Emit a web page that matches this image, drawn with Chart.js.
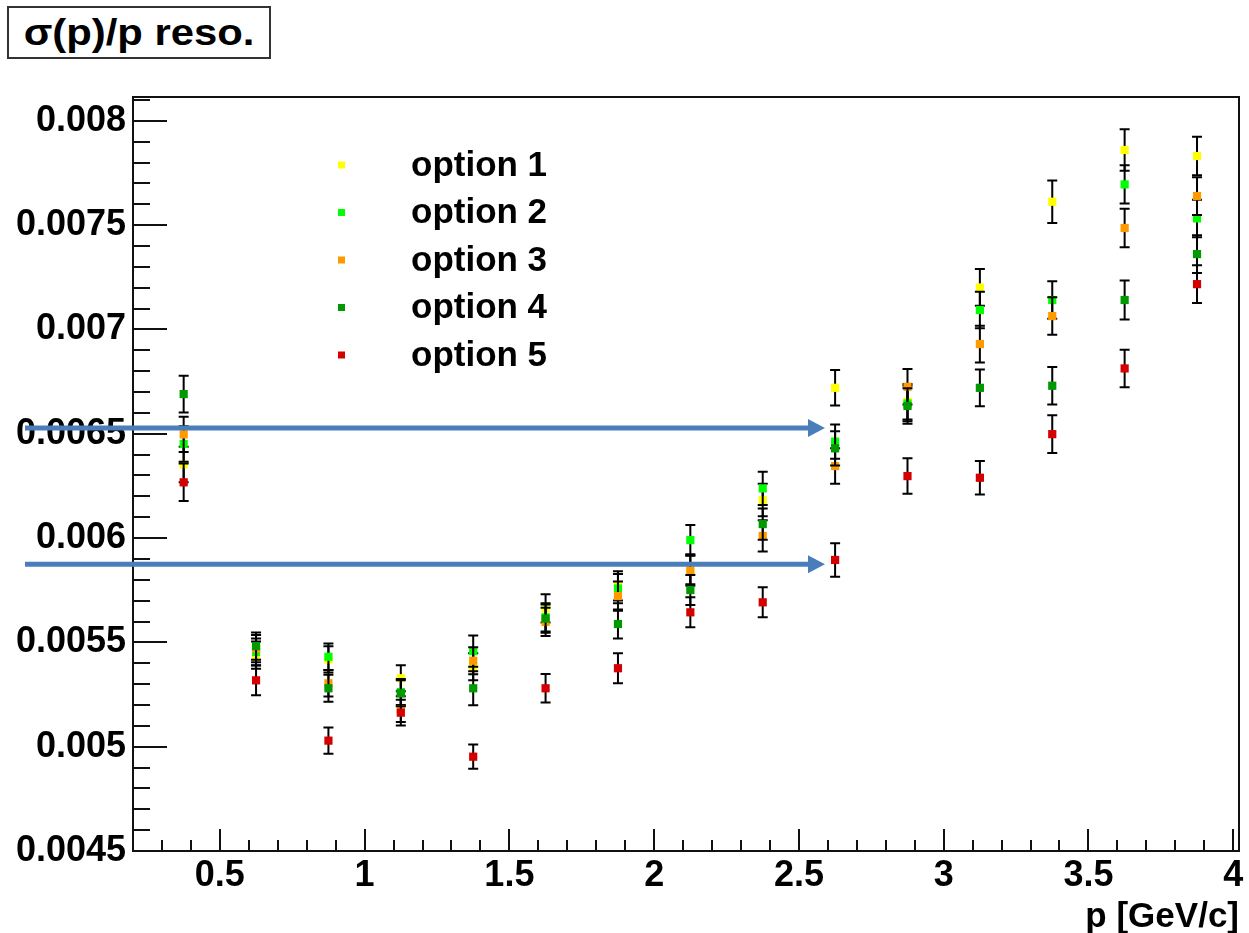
<!DOCTYPE html>
<html>
<head>
<meta charset="utf-8">
<script src="https://cdn.jsdelivr.net/npm/chart.js@4.4.1/dist/chart.umd.min.js"></script>
<style>
  html, body { margin: 0; padding: 0; background: #fff; }
  #wrap { position: relative; width: 1249px; height: 933px; overflow: hidden; }
  #c { position: absolute; left: 0; top: 0; }
  #title {
    position: absolute; left: 7px; top: 6px; width: 260px; height: 49px;
    border: 2px solid #333; background: #fff;
    display: flex; align-items: center; justify-content: center;
    font: bold 37px "Liberation Sans", Arial, sans-serif; color: #000;
  }
  #title span { display: inline-block; transform: scaleX(1.13); transform-origin: center; margin-top: 1px; }
</style>
</head>
<body>
<div id="wrap">
  <canvas id="c" width="1249" height="933"></canvas>
  <div id="title"><span>σ(p)/p reso.</span></div>
</div>
<script>
// Momentum bin centres [GeV/c]
const momentum = [0.375, 0.625, 0.875, 1.125, 1.375, 1.625, 1.875, 2.125,
                  2.375, 2.625, 2.875, 3.125, 3.375, 3.625, 3.875];

// Relative momentum resolution sigma(p)/p for each option
const option1 = [0.006353, 0.005439, 0.005418, 0.005328, 0.005383, 0.005663, 0.005771, 0.005850,
                 0.006182, 0.006720, 0.006653, 0.007201, 0.007612, 0.007860, 0.007831];
const option2 = [0.006451, 0.005454, 0.005431, 0.005262, 0.005458, 0.005620, 0.005758, 0.005990,
                 0.006238, 0.006462, 0.006645, 0.007093, 0.007141, 0.007695, 0.007532];
const option3 = [0.006497, 0.005470, 0.005304, 0.005180, 0.005412, 0.005598, 0.005722, 0.005843,
                 0.006010, 0.006345, 0.006725, 0.006930, 0.007064, 0.007486, 0.007639];
const option4 = [0.006690, 0.005482, 0.005280, 0.005256, 0.005280, 0.005614, 0.005588, 0.005751,
                 0.006067, 0.006430, 0.006633, 0.006720, 0.006730, 0.007141, 0.007361];
const option5 = [0.006267, 0.005318, 0.005029, 0.005163, 0.004952, 0.005280, 0.005376, 0.005644,
                 0.005692, 0.005895, 0.006297, 0.006289, 0.006498, 0.006813, 0.007217];

// Statistical uncertainties on each resolution value
const error1 = [0.000085, 0.000065, 0.000063, 0.000062, 0.000065, 0.000068, 0.000070, 0.000072,
                0.000078, 0.000085, 0.000085, 0.000088, 0.000102, 0.000100, 0.000092];
const error2 = [0.000085, 0.000065, 0.000063, 0.000062, 0.000075, 0.000068, 0.000070, 0.000072,
                0.000080, 0.000082, 0.000085, 0.000088, 0.000090, 0.000092, 0.000090];
const error3 = [0.000085, 0.000065, 0.000063, 0.000062, 0.000065, 0.000068, 0.000070, 0.000072,
                0.000075, 0.000085, 0.000085, 0.000088, 0.000090, 0.000092, 0.000090];
const error4 = [0.000088, 0.000065, 0.000065, 0.000062, 0.000082, 0.000068, 0.000070, 0.000072,
                0.000075, 0.000082, 0.000085, 0.000088, 0.000090, 0.000093, 0.000090];
const error5 = [0.000090, 0.000072, 0.000063, 0.000062, 0.000058, 0.000068, 0.000072, 0.000072,
                0.000072, 0.000080, 0.000085, 0.000080, 0.000090, 0.000090, 0.000090];

const seriesLabels = ['option 1', 'option 2', 'option 3', 'option 4', 'option 5'];
const seriesColors = ['#FFFF00', '#00FF00', '#FF9900', '#009900', '#D40000'];

// Reference levels marked with arrows: resolution values and the momentum the arrows point to
const markerLevels = [0.006527, 0.005874];
const markerTipP = 2.59;

// Axis ranges and tick spacing
const xRange = [0.2, 4.02];
const yRange = [0.0045, 0.008114];
const xMinorStep = 0.1, xMajorStep = 0.5;
const yMinorStep = 0.0001, yMajorStep = 0.0005;

const FONT = '"Liberation Sans", Arial, Helvetica, sans-serif';
const isMultiple = (v, step) => Math.abs(v / step - Math.round(v / step)) < 1e-6;

const values = [option1, option2, option3, option4, option5];
const errors = [error1, error2, error3, error4, error5];

const datasets = values.map((vals, k) => ({
  label: seriesLabels[k],
  data: momentum.map((p, i) => ({ x: p, y: vals[i] })),
  errors: errors[k],
  showLine: false,
  pointStyle: 'rect',
  pointRadius: 5.8,
  pointHoverRadius: 5.8,
  pointBackgroundColor: seriesColors[k],
  pointBorderColor: seriesColors[k],
  pointBorderWidth: 0,
  order: values.length - k   // later options are drawn on top
}));

// Vertical error bars with caps, drawn just before each dataset's markers
const errorBars = {
  id: 'errorBars',
  beforeDatasetDraw(chart, args) {
    const ds = chart.data.datasets[args.index];
    const { ctx, scales: { x, y } } = chart;
    ctx.save();
    ctx.strokeStyle = '#000';
    ctx.lineWidth = 2;
    ds.data.forEach((pt, i) => {
      const e = ds.errors[i];
      const px = x.getPixelForValue(pt.x);
      const yHi = y.getPixelForValue(pt.y + e);
      const yLo = y.getPixelForValue(pt.y - e);
      ctx.beginPath();
      ctx.moveTo(px, yLo); ctx.lineTo(px, yHi);
      ctx.moveTo(px - 5, yLo); ctx.lineTo(px + 5, yLo);
      ctx.moveTo(px - 5, yHi); ctx.lineTo(px + 5, yHi);
      ctx.stroke();
    });
    ctx.restore();
  }
};

// Frame around the plot and inward-pointing major/minor tick marks
const frameTicks = {
  id: 'frameTicks',
  beforeDatasetsDraw(chart) {
    const { ctx, chartArea: a, scales: { x, y } } = chart;
    ctx.save();
    ctx.strokeStyle = '#111';
    ctx.lineWidth = 2;
    ctx.strokeRect(a.left, a.top, a.right - a.left, a.bottom - a.top);
    ctx.beginPath();
    x.ticks.forEach(t => {
      if (t.value <= x.min + 1e-9 || t.value >= x.max - 1e-9) return;
      const px = Math.round(x.getPixelForValue(t.value));
      const len = isMultiple(t.value, xMajorStep) ? 22 : 11;
      ctx.moveTo(px, a.bottom); ctx.lineTo(px, a.bottom - len);
    });
    y.ticks.forEach(t => {
      if (t.value <= y.min + 1e-12 || t.value >= y.max - 1e-12) return;
      const py = Math.round(y.getPixelForValue(t.value));
      const len = isMultiple(t.value, yMajorStep) ? 34 : 17;
      ctx.moveTo(a.left, py); ctx.lineTo(a.left + len, py);
    });
    ctx.stroke();
    ctx.restore();
  }
};

// Legend placed inside the plot, upper left
const insideLegend = {
  id: 'insideLegend',
  afterDraw(chart) {
    const { ctx } = chart;
    ctx.save();
    ctx.font = 'bold 35px ' + FONT;
    ctx.textBaseline = 'middle';
    ctx.textAlign = 'left';
    chart.data.datasets.forEach((ds, k) => {
      const cy = 165 + 47.5 * k;
      ctx.fillStyle = ds.pointBackgroundColor;
      ctx.fillRect(338, cy - 3.5, 7, 7);
      ctx.fillStyle = '#000';
      ctx.fillText(ds.label, 411, cy + 1);
    });
    ctx.restore();
  }
};

// Horizontal arrows marking two resolution levels
const levelArrows = {
  id: 'levelArrows',
  afterDraw(chart) {
    const { ctx, scales: { x, y } } = chart;
    const tip = x.getPixelForValue(markerTipP);
    const head = 17, half = 9;
    ctx.save();
    ctx.strokeStyle = '#4A7EBB';
    ctx.fillStyle = '#4A7EBB';
    ctx.lineWidth = 5;
    markerLevels.forEach(v => {
      const py = y.getPixelForValue(v);
      ctx.beginPath();
      ctx.moveTo(25, py); ctx.lineTo(tip - head + 1, py);
      ctx.stroke();
      ctx.beginPath();
      ctx.moveTo(tip, py);
      ctx.lineTo(tip - head, py - half);
      ctx.lineTo(tip - head, py + half);
      ctx.closePath();
      ctx.fill();
    });
    ctx.restore();
  }
};

const tickFont = { family: FONT, size: 36, weight: 'bold' };

new Chart(document.getElementById('c'), {
  type: 'scatter',
  data: { datasets },
  options: {
    responsive: false,
    animation: false,
    devicePixelRatio: 1,
    events: [],
    layout: { padding: { top: 97, right: 10, left: 0, bottom: 0 } },
    plugins: { legend: { display: false }, tooltip: { enabled: false }, title: { display: false } },
    scales: {
      x: {
        type: 'linear', min: xRange[0], max: xRange[1], bounds: 'data',
        grid: { display: false, drawTicks: false },
        border: { display: false },
        ticks: {
          stepSize: xMinorStep, autoSkip: false, includeBounds: false, maxRotation: 0,
          maxTicksLimit: 1000, padding: 3, color: '#000', font: tickFont,
          callback: v => (isMultiple(v, xMajorStep) && v > xRange[0] + 1e-6) ? String(+v.toFixed(2)) : ''
        },
        title: {
          display: true, text: 'p [GeV/c]', align: 'end', color: '#000',
          font: { family: FONT, size: 35, weight: 'bold' }, padding: { top: 0, bottom: -5 }
        },
        afterFit: s => { s.height = 82; }
      },
      y: {
        type: 'linear', min: yRange[0], max: yRange[1], bounds: 'data',
        grid: { display: false, drawTicks: false },
        border: { display: false },
        ticks: {
          stepSize: yMinorStep, autoSkip: false, includeBounds: false,
          maxTicksLimit: 1000, padding: 7, color: '#000', font: tickFont,
          callback: v => isMultiple(v, yMajorStep) ? String(+v.toFixed(5)) : ''
        },
        afterFit: s => { s.width = 133; }
      }
    }
  },
  plugins: [frameTicks, errorBars, insideLegend, levelArrows]
});
</script>
</body>
</html>
